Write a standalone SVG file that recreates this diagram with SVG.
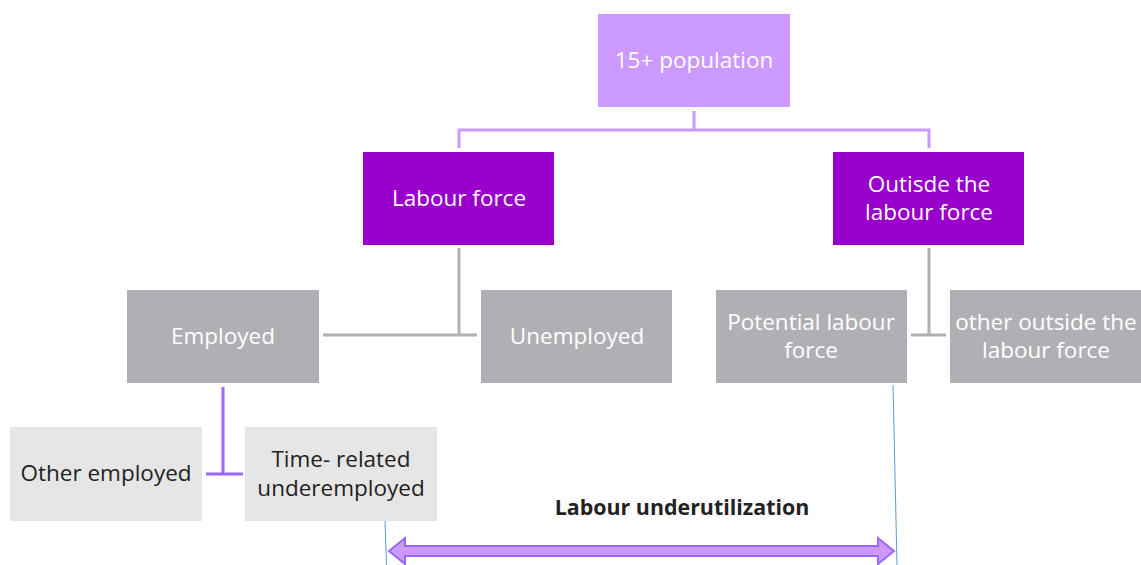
<svg xmlns="http://www.w3.org/2000/svg" width="1141" height="565" viewBox="0 0 1141 565">
<style>
.t{font-family:"Open Sans","Liberation Sans",Arial,sans-serif;font-size:22.5px;text-anchor:middle}
.b{font-weight:bold}
.w{fill:#ffffff}
.d{fill:#222222}
.top{fill:#cc99ff}
.mid{fill:#9900cc}
.gray{fill:#b0b0b4}
.light{fill:#e6e6e6}
.cp{fill:none;stroke:#cc99ff;stroke-width:3}
.cg{fill:none;stroke:#b0b0b4;stroke-width:3}
.cv{fill:none;stroke:#9966ff;stroke-width:3}
.cb{fill:none;stroke:#5b9bd5;stroke-width:1}
</style>
<rect width="1141" height="565" fill="#ffffff"/>
<g id="connectors">
<path class="cp" d="M694 111V130M459 148V130H929V148"/>
<path class="cg" d="M459 248V335M323 335H477"/>
<path class="cg" d="M929 248V335M911 335H946"/>
<path class="cv" d="M223 387V474M206 474H243"/>
<path class="cb" d="M385 521L386.5 565"/>
<path class="cb" d="M893 385L897 565"/>
</g>
<g id="n-pop"><rect class="top" x="598" y="14" width="192" height="93"/><text class="t w" x="694" y="68">15+ population</text></g>
<g id="n-lf"><rect class="mid" x="363" y="152" width="191" height="93"/><text class="t w" x="459" y="206">Labour force</text></g>
<g id="n-olf"><rect class="mid" x="833" y="152" width="191" height="93"/><text class="t w" x="929" y="192">Outisde the</text><text class="t w" x="929" y="220">labour force</text></g>
<g id="n-emp"><rect class="gray" x="127" y="290" width="192" height="93"/><text class="t w" x="223" y="344">Employed</text></g>
<g id="n-unemp"><rect class="gray" x="481" y="290" width="191" height="93"/><text class="t w" x="577" y="344">Unemployed</text></g>
<g id="n-plf"><rect class="gray" x="716" y="290" width="191" height="93"/><text class="t w" x="811" y="330">Potential labour</text><text class="t w" x="811" y="358">force</text></g>
<g id="n-other"><rect class="gray" x="950" y="290" width="191" height="93"/><text class="t w" x="1046" y="330">other outside the</text><text class="t w" x="1046" y="358">labour force</text></g>
<g id="n-oe"><rect class="light" x="10" y="427" width="192" height="94"/><text class="t d" x="106" y="481">Other employed</text></g>
<g id="n-tru"><rect class="light" x="245" y="427" width="192" height="94"/><text class="t d" x="341" y="467">Time- related</text><text class="t d" x="341" y="496">underemployed</text></g>
<g id="n-lu"><text class="t b d" x="682" y="515" style="font-size:21.4px">Labour underutilization</text>
<path d="M389 551L405 538V546H878V538L894 551L878 564V556H405V564Z" fill="#cc99ff" stroke="#9966ff" stroke-width="2" stroke-linejoin="miter"/></g>
</svg>
